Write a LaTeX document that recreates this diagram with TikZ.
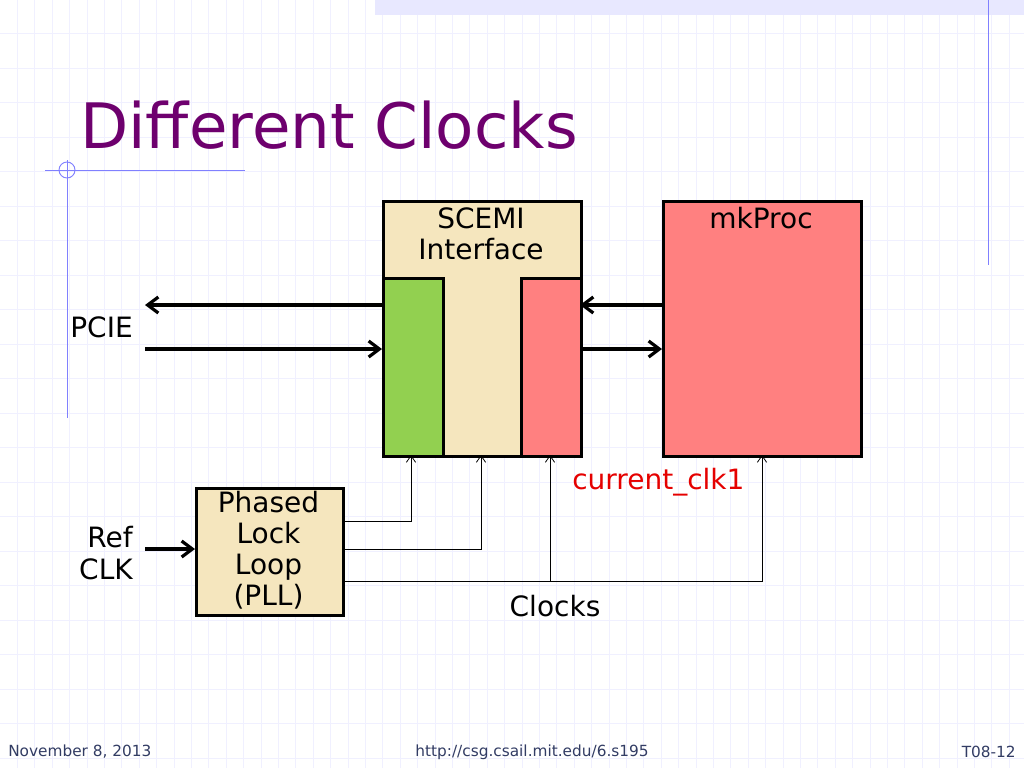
\documentclass[tikz,border=0pt]{standalone}
\usepackage{fontspec}
\setmainfont{DejaVu Sans}
\usetikzlibrary{arrows.meta}
\begin{document}
\begin{tikzpicture}[x=0.75pt,y=-0.75pt,
  box/.style={draw=black,line width=2.2pt},
  bigarrow/.style={draw=black,line width=2.8pt,-{Straight Barb[length=8pt,width=12pt,line width=2.4pt]}},
  clk/.style={line width=0.6pt,-{Straight Barb[length=5pt,width=7pt]}},
  lbl/.style={font=\fontsize{21}{23.5}\selectfont,inner sep=0pt},
  foot/.style={font=\fontsize{11.5}{13}\selectfont,text={rgb,255:red,50;green,60;blue,100},inner sep=0pt}]
\useasboundingbox (0,0) rectangle (1024,768);
\fill[white] (0,0) rectangle (1024,768);
\foreach \x in {17.4,34.8,...,1024} \draw[blue!6,line width=0.5pt] (\x,0) -- (\x,768);
\foreach \y in {33.5,68,...,768} \draw[blue!6,line width=0.5pt] (0,\y) -- (1024,\y);
\fill[blue!9] (375,0) rectangle (1024,15);
\draw[blue!50,line width=0.7pt] (988,0) -- (988,265);
\draw[blue!50,line width=0.7pt] (45,170) -- (245,170);
\draw[blue!50,line width=0.7pt] (67,160) -- (67,418);
\draw[blue!50,line width=0.7pt] (67,170) circle (8);
\node[anchor=west,inner sep=0pt,text={rgb,255:red,110;green,0;blue,110},font=\fontsize{47}{50}\selectfont] (title) at (80,125) {Different Clocks};
% boxes
\node[box,fill={rgb,255:red,245;green,230;blue,190},minimum width=198*0.75pt,minimum height=255*0.75pt,anchor=north west,inner sep=0pt] (scemi) at (382,200) {};
\node[lbl,align=center,anchor=north] (scemit) at (481,207) {SCEMI\\Interface};
\node[box,fill={rgb,255:red,146;green,208;blue,80},minimum width=60*0.75pt,minimum height=178*0.75pt,anchor=north west,inner sep=0pt] (green) at (382,277) {};
\node[box,fill={rgb,255:red,255;green,128;blue,128},minimum width=60*0.75pt,minimum height=178*0.75pt,anchor=north west,inner sep=0pt] (red) at (520,277) {};
\node[box,fill={rgb,255:red,255;green,128;blue,128},minimum width=198*0.75pt,minimum height=255*0.75pt,anchor=north west,inner sep=0pt] (proc) at (662,200) {};
\node[lbl,anchor=north] (proct) at (761,207) {mkProc};
\node[box,fill={rgb,255:red,245;green,230;blue,190},minimum width=147*0.75pt,minimum height=127*0.75pt,anchor=north west,inner sep=0pt] (pll) at (195,487) {};
\node[lbl,align=center,font=\fontsize{21}{23.3}\selectfont] (pllt) at (268.5,550) {Phased\\Lock\\Loop\\(PLL)};
% labels
\node[lbl,anchor=east] (pcie) at (133,327) {PCIE};
\node[lbl,anchor=east,align=right,font=\fontsize{21}{24}\selectfont] (ref) at (133,553) {Ref\\CLK};
\node[lbl] (clocks) at (555,606) {Clocks};
\node[lbl,text=red!90!black,anchor=west] (cur) at (572,482) {current\_clk1};
% anchors
\coordinate (p1) at (145,305); \coordinate (p2) at (145,349); \coordinate (r1) at (145,549);
\draw[bigarrow] (382,305) -- (p1);
\draw[bigarrow] (p2) -- (382,349);
\draw[bigarrow] (662,305) -- (580,305);
\draw[bigarrow] (580,349) -- (662,349);
\draw[bigarrow] (r1) -- (195,549);
\draw[clk] (342,521) -| (411,455);
\draw[clk] (342,549) -| (481,455);
\draw[clk] (342,581) -| (762,455);
\draw[clk] (550,581) -- (550,455);
% footer
\node[foot,anchor=west] (f1) at (8,752) {November 8, 2013};
\node[foot] (f2) at (532,752) {http://csg.csail.mit.edu/6.s195};
\node[foot,anchor=east] (f3) at (1016,752) {T08-12};
\end{tikzpicture}
\end{document}
